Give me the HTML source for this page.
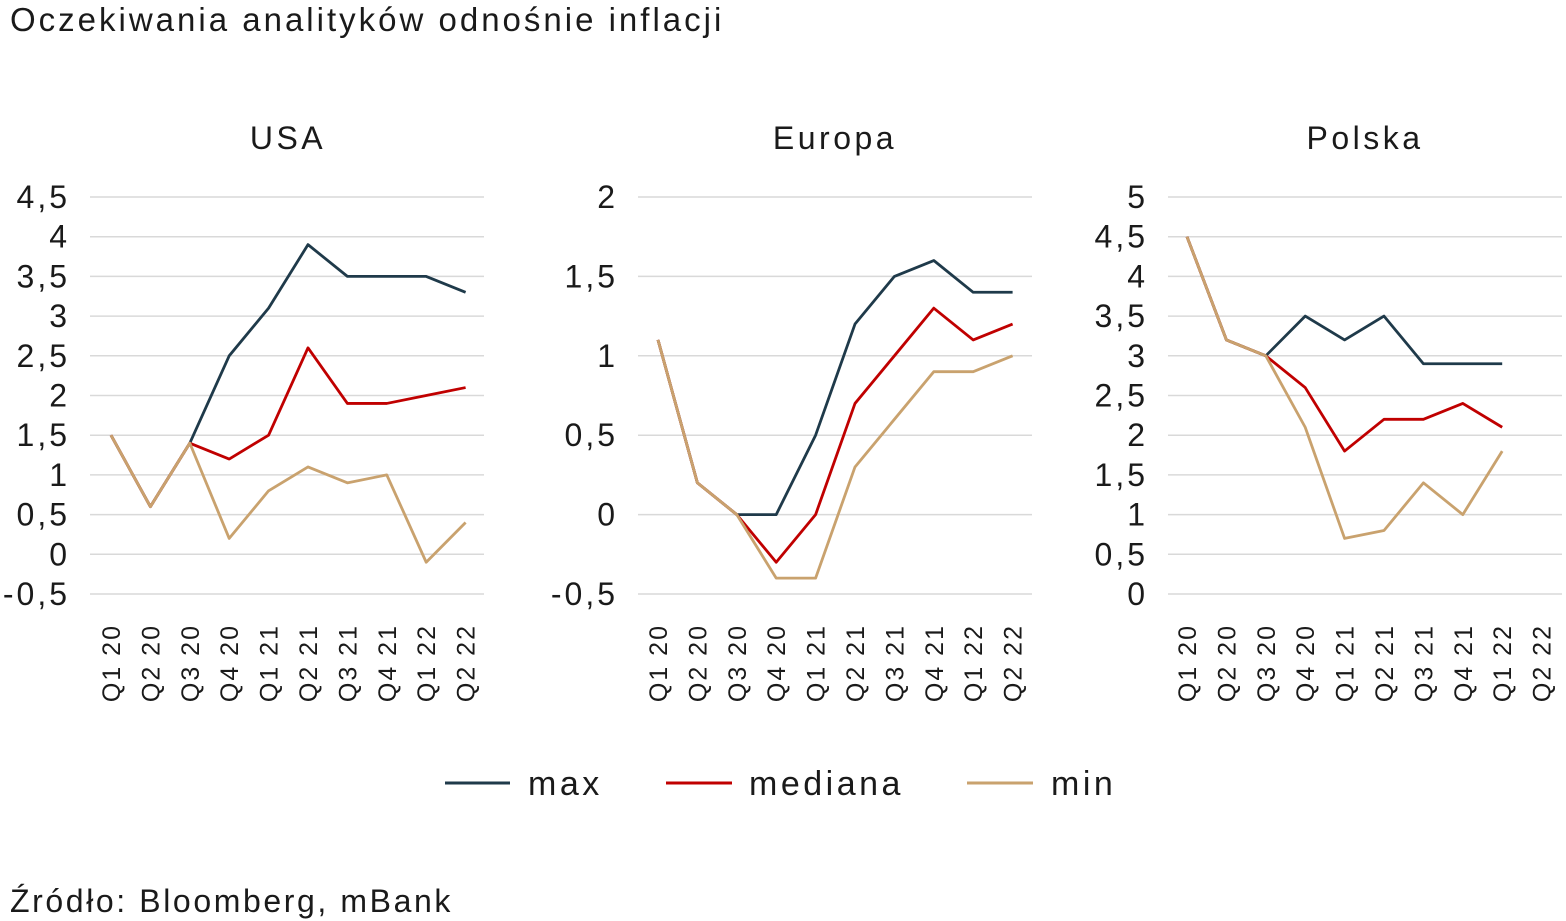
<!DOCTYPE html>
<html><head><meta charset="utf-8"><style>
html,body{margin:0;padding:0;background:#fff;}
svg{display:block;font-family:"Liberation Sans",sans-serif;}
</style></head><body>
<svg width="1566" height="921" viewBox="0 0 1566 921" xmlns="http://www.w3.org/2000/svg">
<text x="10" y="31" font-size="33" letter-spacing="3" fill="#1a1a1a">Oczekiwania analityków odnośnie inflacji</text>
<text x="10" y="912" font-size="32" letter-spacing="2.6" fill="#1a1a1a">Źródło: Bloomberg, mBank</text>
<g id="charts"></g>
<g stroke-width="3">
<line x1="445" y1="783" x2="510" y2="783" stroke="#1f3a4a"/>
<line x1="666" y1="783" x2="732" y2="783" stroke="#c00000"/>
<line x1="967" y1="783" x2="1033" y2="783" stroke="#c9a26e"/>
</g>
<g font-size="34" letter-spacing="3.5" fill="#1a1a1a">
<text x="528" y="795">max</text><text x="749" y="795">mediana</text><text x="1051" y="795">min</text>
</g>
</svg>
<script>
const NS="http://www.w3.org/2000/svg";
const g=document.getElementById("charts");
function el(t,a,txt){const e=document.createElementNS(NS,t);for(const k in a)e.setAttribute(k,a[k]);if(txt!==undefined)e.textContent=txt;g.appendChild(e);return e;}
const labels=["Q1 20","Q2 20","Q3 20","Q4 20","Q1 21","Q2 21","Q3 21","Q4 21","Q1 22","Q2 22"];
const panels=[
{title:"USA",tx:288,x0:90,x1:484,xs:111,ymax:4.5,ymin:-0.5,lx:70,
max:[1.5,0.6,1.4,2.5,3.1,3.9,3.5,3.5,3.5,3.3],med:[1.5,0.6,1.4,1.2,1.5,2.6,1.9,1.9,2.0,2.1],min:[1.5,0.6,1.4,0.2,0.8,1.1,0.9,1.0,-0.1,0.4]},
{title:"Europa",tx:835,x0:638,x1:1032,xs:658,ymax:2,ymin:-0.5,lx:618,
max:[1.1,0.2,0,0,0.5,1.2,1.5,1.6,1.4,1.4],med:[1.1,0.2,0,-0.3,0,0.7,1.0,1.3,1.1,1.2],min:[1.1,0.2,0,-0.4,-0.4,0.3,0.6,0.9,0.9,1.0]},
{title:"Polska",tx:1365,x0:1168,x1:1562,xs:1187,ymax:5,ymin:0,lx:1148,
max:[4.5,3.2,3.0,3.5,3.2,3.5,2.9,2.9,2.9],med:[4.5,3.2,3.0,2.6,1.8,2.2,2.2,2.4,2.1],min:[4.5,3.2,3.0,2.1,0.7,0.8,1.4,1.0,1.8]}];
const yt=197,yb=594,dx=39.4;
panels.forEach(p=>{
 el("text",{x:p.tx,y:149,"font-size":32,"letter-spacing":3.5,"text-anchor":"middle",fill:"#1a1a1a"},p.title);
 const n=Math.round((p.ymax-p.ymin)/0.5);
 const Y=v=>yt+(p.ymax-v)/(p.ymax-p.ymin)*(yb-yt);
 for(let i=0;i<=n;i++){const v=p.ymax-i*0.5;const y=Y(v);
  el("line",{x1:p.x0,x2:p.x1,y1:y,y2:y,stroke:"#d9d9d9","stroke-width":1.5});
  el("text",{x:p.lx,y:y+11,"font-size":32,"letter-spacing":3,"text-anchor":"end",fill:"#1a1a1a"},String(+v.toFixed(1)).replace(".",","));}
 labels.forEach((l,i)=>{const x=p.xs+i*dx+9;
  el("text",{x:0,y:0,"font-size":25,"letter-spacing":2,"text-anchor":"end",fill:"#1a1a1a",transform:`translate(${x},624) rotate(-90)`},l);});
 [["max","#1f3a4a"],["med","#c00000"],["min","#c9a26e"]].forEach(([k,c])=>{
  el("polyline",{points:p[k].map((v,i)=>`${p.xs+i*dx},${Y(v)}`).join(" "),fill:"none",stroke:c,"stroke-width":2.8,"stroke-linejoin":"round"});});
});
</script>
</body></html>
